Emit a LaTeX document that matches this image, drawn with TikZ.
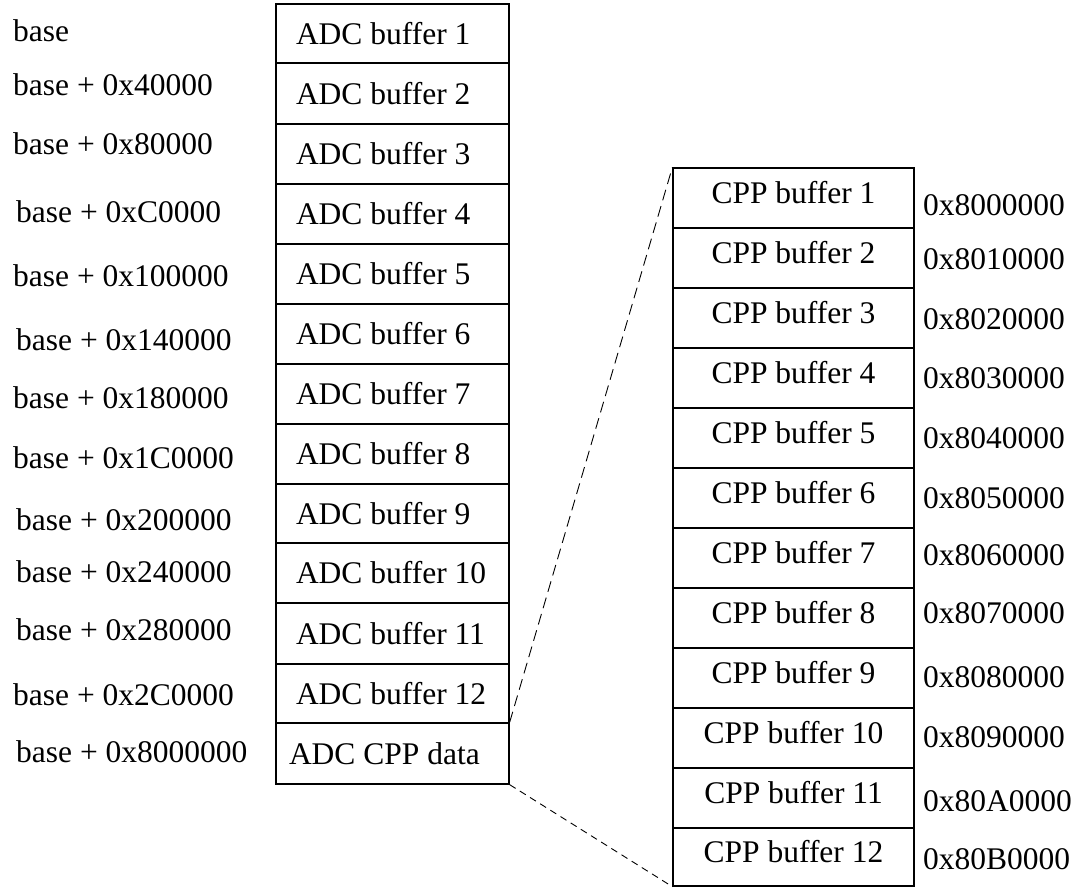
\documentclass[tikz,border=0pt]{standalone}
\usepackage{fontspec}
\setmainfont{Liberation Serif}
\begin{document}
\begin{tikzpicture}[x=1pt,y=-1pt,
  every node/.style={font=\fontsize{31.5}{36}\selectfont},
  adc/.style={draw, line width=1.3pt, minimum width=233pt, inner xsep=20pt, inner ysep=0pt},
  adcdata/.style={adc, inner xsep=13pt},
  cpp/.style={draw, line width=1.3pt, minimum width=241pt, inner sep=0pt, text depth=12pt},
  lbl/.style={anchor=west, inner sep=0pt},
  link/.style={line width=0.9pt}]
\useasboundingbox (0,0) rectangle (1085,888);
% ADC memory column
\foreach \t/\b/\i in {4/63/1, 63/124/2, 124/184/3, 184/244/4, 244/304/5, 304/364/6,
                      364/424/7, 424/484/8, 484/543/9, 543/603/10, 603/664/11, 664/723/12}
  \node[adc, minimum height={\b pt-\t pt}] (a\i) at (392.5,{(\t+\b)/2}) {\makebox[193pt][l]{ADC buffer \i}};
\node[adcdata, minimum height=61pt] (adata) at (392.5,753.5) {\makebox[207pt][l]{ADC CPP data}};
% CPP column
\foreach \t/\b/\i in {168/228/1, 228/288/2, 288/348/3, 348/408/4, 408/468/5, 468/528/6,
                      528/588/7, 588/648/8, 648/708/9, 708/768/10, 768/828/11, 828/886/12}
  \node[cpp, minimum height={\b pt-\t pt}] (c\i) at (793.5,{(\t+\b)/2}) {CPP buffer \i};
% left address labels
\node[lbl] (l1) at (13,31) {base};
\node[lbl] (l2) at (13,85) {base + 0x40000};
\node[lbl] (l3) at (13,144) {base + 0x80000};
\node[lbl] (l4) at (16,212) {base + 0xC0000};
\node[lbl] (l5) at (13,276) {base + 0x100000};
\node[lbl] (l6) at (16,340) {base + 0x140000};
\node[lbl] (l7) at (13,398) {base + 0x180000};
\node[lbl] (l8) at (13,458) {base + 0x1C0000};
\node[lbl] (l9) at (16,520) {base + 0x200000};
\node[lbl] (l10) at (16,572) {base + 0x240000};
\node[lbl] (l11) at (16,630) {base + 0x280000};
\node[lbl] (l12) at (13,695) {base + 0x2C0000};
\node[lbl] (l13) at (16,752) {base + 0x8000000};
% right address labels
\node[lbl] (r1) at (923,205) {0x8000000};
\node[lbl] (r2) at (923,259) {0x8010000};
\node[lbl] (r3) at (923,319) {0x8020000};
\node[lbl] (r4) at (923,378) {0x8030000};
\node[lbl] (r5) at (923,438) {0x8040000};
\node[lbl] (r6) at (923,498) {0x8050000};
\node[lbl] (r7) at (923,555) {0x8060000};
\node[lbl] (r8) at (923,613) {0x8070000};
\node[lbl] (r9) at (923,677) {0x8080000};
\node[lbl] (r10) at (923,737) {0x8090000};
\node[lbl] (r11) at (923,801) {0x80A0000};
\node[lbl] (r12) at (923,859) {0x80B0000};
% zoom connectors
\draw[link, dash pattern=on 11pt off 6pt] (adata.north east) -- (c1.north west);
\draw[link, dash pattern=on 7pt off 5pt] (adata.south east) -- (c12.south west);
\end{tikzpicture}
\end{document}
